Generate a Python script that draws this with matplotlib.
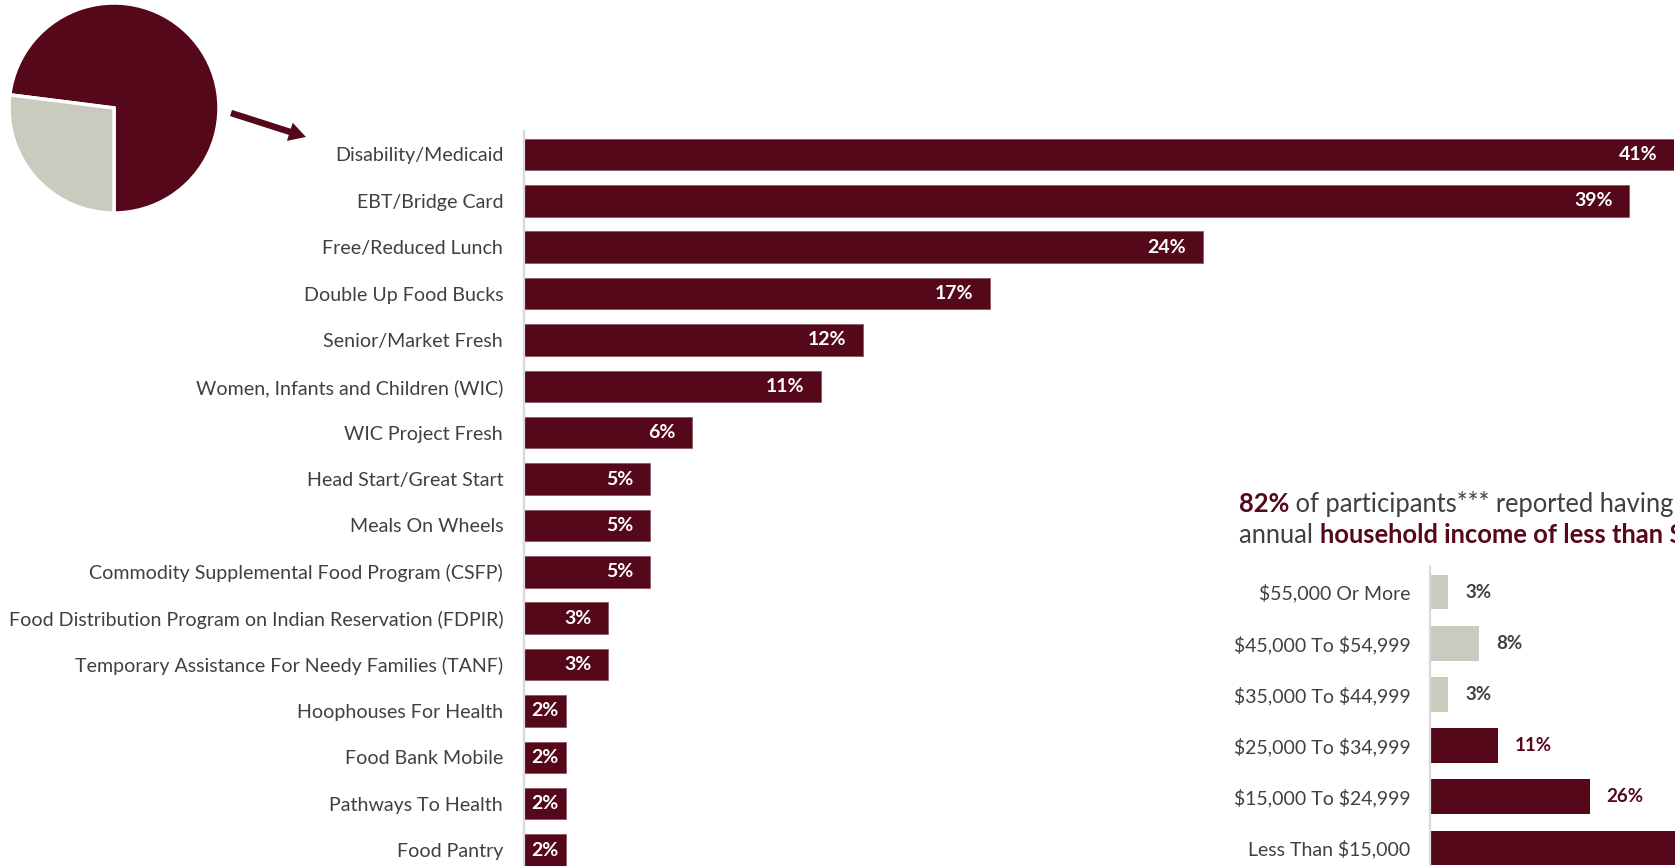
import matplotlib
matplotlib.use("Agg")
import matplotlib.pyplot as plt
from matplotlib.patches import FancyArrow
from matplotlib.transforms import IdentityTransform

# ---------------------------------------
# data
programs = ["Disability/Medicaid", "EBT/Bridge Card", "Free/Reduced Lunch",
            "Double Up Food Bucks", "Senior/Market Fresh",
            "Women, Infants and Children (WIC)", "WIC Project Fresh",
            "Head Start/Great Start", "Meals On Wheels",
            "Commodity Supplemental Food Program (CSFP)",
            "Food Distribution Program on Indian Reservation (FDPIR)",
            "Temporary Assistance For Needy Families (TANF)",
            "Hoophouses For Health", "Food Bank Mobile", "Pathways To Health",
            "Food Pantry"]
# bar lengths as measured, and the rounded labels printed on them
program_pct = [41.0, 39.4, 24.2, 16.6, 12.1, 10.6, 6.0, 4.5, 4.5, 4.5, 3.0, 3.0, 1.5, 1.5, 1.5, 1.5]
program_labels = ["41%", "39%", "24%", "17%", "12%", "11%", "6%", "5%", "5%", "5%",
                  "3%", "3%", "2%", "2%", "2%", "2%"]

income_bands = ["$55,000 Or More", "$45,000 To $54,999", "$35,000 To $44,999",
                "$25,000 To $34,999", "$15,000 To $24,999", "Less Than $15,000"]
income_pct = [3, 8, 3, 11, 26, 45]
income_low = [False, False, False, True, True, True]   # under $35k shown in maroon

pie_share = [73, 27]   # participating vs not

MAROON = "#56081b"
GREY_BAR = "#c8cbbe"
TEXT = "#404040"
AXLINE = "#d9d9d9"
W, H = 1675, 866

plt.rcParams['font.family'] = ['Lato', 'DejaVu Sans']
plt.rcParams['text.parse_math'] = False


def px_axes(fig, left, top, right, bottom):
    # axes placed with pixel edges (top-left origin)
    return fig.add_axes([left / W, 1 - bottom / H, (right - left) / W, (bottom - top) / H])


def main():
    fig = plt.figure(figsize=(W / 100, H / 100), dpi=100)

    # ---- main program bars ----
    ax = px_axes(fig, 524, 131, 1674, H)
    rows = list(range(len(programs)))
    ax.barh(rows, program_pct, height=0.68, color=MAROON, edgecolor="#8a5a66", linewidth=0.6)
    ax.set_xlim(0, 41)
    ax.set_ylim((H - 154.5) / 46.37, -(154.5 - 131) / 46.37)
    ax.set_yticks(rows)
    ax.set_yticklabels(programs, fontsize=14.1, color=TEXT)
    ax.tick_params(axis="y", length=0, pad=15)
    ax.set_xticks([])
    for s in ["top", "right", "bottom"]:
        ax.spines[s].set_visible(False)
    ax.spines["left"].set_color(AXLINE)
    ax.spines["left"].set_linewidth(1.6)
    ax.patch.set_alpha(0)
    for r, v, lab in zip(rows, program_pct, program_labels):
        if v < 2:
            # too short for an inside-end label: centre it
            ax.text(v / 2, r, lab, ha="center", va="center", color="white",
                    fontweight="bold", fontsize=14)
        else:
            ax.annotate(lab, (v, r), xytext=(-12, 0), textcoords="offset points",
                        ha="right", va="center", color="white", fontweight="bold", fontsize=14)

    # ---- income inset bars ----
    ax2 = px_axes(fig, 1430, 567, W, H)
    rows2 = list(range(len(income_bands)))
    colors2 = [MAROON if low else GREY_BAR for low in income_low]
    ax2.barh(rows2, income_pct, height=0.68, color=colors2)
    ax2.set_xlim(0, (W - 1430) / 6.15)
    ax2.set_ylim((H - 592) / 51.2, -(592 - 567) / 51.2)
    ax2.set_yticks(rows2)
    ax2.set_yticklabels(income_bands, fontsize=14, color=TEXT)
    ax2.tick_params(axis="y", length=0, pad=14)
    ax2.set_xticks([])
    for s in ["top", "right", "bottom"]:
        ax2.spines[s].set_visible(False)
    ax2.spines["left"].set_color(AXLINE)
    ax2.spines["left"].set_linewidth(1.6)
    ax2.patch.set_alpha(0)
    for r, v, low in zip(rows2, income_pct, income_low):
        ax2.annotate(f"{v}%", (v, r), xytext=(12, 0), textcoords="offset points",
                     ha="left", va="center", color=MAROON if low else TEXT,
                     fontweight="bold", fontsize=13.5, annotation_clip=False)

    # ---- inset heading with mixed styling ----
    renderer = fig.canvas.get_renderer()
    lines = [
        (512, [("82%", MAROON, "bold"), (" of participants*** reported having an", TEXT, "normal")]),
        (543, [("annual ", TEXT, "normal"), ("household income of less than $25,000", MAROON, "bold")]),
    ]
    for base_y, parts in lines:
        x = 1239
        for s, c, wgt in parts:
            fig.text(x, H - base_y, s, color=c, fontweight=wgt, fontsize=18.4,
                     va="baseline", ha="left", transform=IdentityTransform())
            # measure with guard characters so spaces are counted
            probe = fig.text(0, 0, "|" + s + "|", fontweight=wgt, fontsize=18.4,
                             transform=IdentityTransform())
            bar = fig.text(0, 0, "||", fontweight=wgt, fontsize=18.4,
                           transform=IdentityTransform())
            x += probe.get_window_extent(renderer).width - bar.get_window_extent(renderer).width
            probe.remove()
            bar.remove()

    # ---- pie ----
    r = 105
    axp = px_axes(fig, 114 - r, 108 - r, 114 + r, 108 + r)
    axp.pie(pie_share, colors=[MAROON, GREY_BAR], startangle=270, counterclock=True,
            wedgeprops=dict(edgecolor="white", linewidth=2.5))
    axp.set_xlim(-1.0, 1.0)
    axp.set_ylim(-1.0, 1.0)
    axp.set_aspect("equal")
    axp.axis("off")

    # ---- arrow from pie to bar chart ----
    ax0 = fig.add_axes([0, 0, 1, 1], zorder=-1)
    ax0.set_xlim(0, W)
    ax0.set_ylim(H, 0)
    ax0.axis("off")
    ax0.add_patch(FancyArrow(231, 113, 75, 24, width=6.5, head_width=19, head_length=17,
                             length_includes_head=True, color=MAROON, linewidth=0))

    fig.savefig("out.png", dpi=100)


if __name__ == "__main__":
    main()
